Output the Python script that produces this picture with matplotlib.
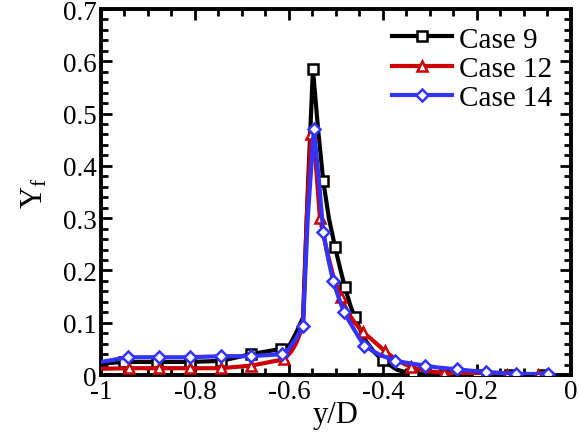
import matplotlib.pyplot as plt
from matplotlib.ticker import MultipleLocator, FuncFormatter

plt.rcParams['font.family'] = ['Liberation Serif', 'DejaVu Serif']
plt.rcParams['mathtext.fontset'] = 'custom'
plt.rcParams['mathtext.rm'] = 'Liberation Serif'
plt.rcParams['mathtext.it'] = 'Liberation Serif'

# Case 9
x9 = [-1, -0.95, -0.88, -0.81, -0.745, -0.68, -0.616, -0.60, -0.585, -0.57, -0.56, -0.549,
      -0.538, -0.527, -0.515, -0.502, -0.49, -0.481, -0.47, -0.46, -0.44, -0.42, -0.40,
      -0.37, -0.336, -0.30, -0.268, -0.2, -0.13, -0.06, -0.04]
y9 = [0.022, 0.025, 0.025, 0.025, 0.027, 0.04, 0.05, 0.055, 0.08, 0.11, 0.35, 0.585,
      0.47, 0.371, 0.30, 0.245, 0.20, 0.168, 0.135, 0.11, 0.07, 0.045, 0.028,
      0.01, 0.002, 0.001, 0.0, 0.0, 0.0, 0.0, 0.0]
m9 = [1, 2, 3, 4, 5, 6, 11, 13, 15, 17, 19, 22, 24, 26, 27, 28, 29]

# Case 12
x12 = [-1, -0.94, -0.876, -0.81, -0.745, -0.68, -0.64, -0.61, -0.595, -0.585, -0.57, -0.562,
       -0.553, -0.545, -0.534, -0.52, -0.506, -0.49, -0.475, -0.46, -0.442, -0.42, -0.396,
       -0.37, -0.34, -0.31, -0.27, -0.24, -0.18, -0.137, -0.07, -0.04]
y12 = [0.012, 0.013, 0.013, 0.013, 0.013, 0.018, 0.025, 0.03, 0.045, 0.06, 0.094, 0.30,
       0.46, 0.43, 0.30, 0.24, 0.19, 0.15, 0.12, 0.10, 0.082, 0.065, 0.046,
       0.028, 0.015, 0.008, 0.004, 0.002, 0.001, 0.0, 0.0, 0.0]
m12 = [1, 2, 3, 4, 5, 7, 12, 14, 17, 20, 22, 24, 26, 28, 29, 30]

# Case 14
x14 = [-1, -0.942, -0.876, -0.81, -0.745, -0.68, -0.614, -0.60, -0.585, -0.57, -0.56, -0.547,
       -0.537, -0.527, -0.516, -0.506, -0.495, -0.483, -0.46, -0.44, -0.41, -0.374, -0.34,
       -0.311, -0.28, -0.243, -0.21, -0.18, -0.15, -0.116, -0.08, -0.049, -0.04]
y14 = [0.025, 0.034, 0.034, 0.034, 0.036, 0.036, 0.04, 0.05, 0.07, 0.094, 0.30, 0.47,
       0.38, 0.273, 0.22, 0.18, 0.15, 0.12, 0.085, 0.056, 0.04, 0.027, 0.022,
       0.018, 0.014, 0.011, 0.008, 0.006, 0.004, 0.002, 0.002, 0.002, 0.002]
m14 = [1, 2, 3, 4, 5, 6, 9, 11, 13, 15, 17, 19, 21, 23, 25, 27, 29, 31]

fig = plt.figure(figsize=(5.79, 4.35), dpi=100)
ax = fig.add_axes([0.1744, 0.1356, 0.8116, 0.8414])

ax.plot(x9, y9, color='black', lw=3, marker='s', ms=7, mfc='white', mec='black', mew=1.8,
        markevery=m9, label='Case 9', zorder=3)
ax.plot(x12, y12, color='#cc0000', lw=3, marker='^', ms=7, mfc='white', mec='#cc0000', mew=1.8,
        markevery=m12, label='Case 12', zorder=4)
ax.plot(x14, y14, color='#3333ff', lw=3, marker='D', ms=6.5, mfc='white', mec='#3333ff', mew=1.8,
        markevery=m14, label='Case 14', zorder=5)

ax.set_xlim(-1, 0)
ax.set_ylim(0, 0.7)
ax.xaxis.set_major_locator(MultipleLocator(0.2))
ax.xaxis.set_minor_locator(MultipleLocator(0.05))
ax.yaxis.set_major_locator(MultipleLocator(0.1))
ax.yaxis.set_minor_locator(MultipleLocator(0.02))
fmt = FuncFormatter(lambda v, p: '%g' % round(v, 2))
ax.xaxis.set_major_formatter(fmt)
ax.yaxis.set_major_formatter(fmt)
ax.tick_params(which='both', direction='in', top=True, right=True, labelsize=19.5, width=2)
ax.tick_params(which='major', length=8, pad=3)
ax.tick_params(which='minor', length=5)
for s in ax.spines.values():
    s.set_linewidth(2.8)

ax.set_xlabel('y/D', fontsize=22, labelpad=-3)
ax.set_ylabel(r'Y$_{\rm f}$', fontsize=22, labelpad=10)

ax.legend(loc='upper right', fontsize=21, frameon=False, handlelength=2.05, handletextpad=0.25,
          labelspacing=0.1, borderaxespad=0.0, bbox_to_anchor=(0.985, 0.985))

fig.savefig('out.png', dpi=100)
